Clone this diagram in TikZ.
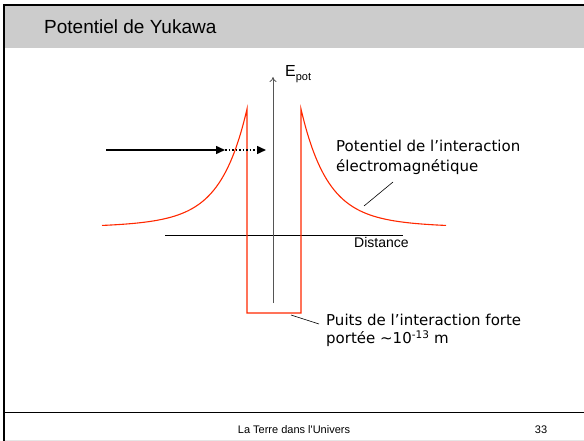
\documentclass[tikz,border=0pt]{standalone}
\usepackage{fontspec}
\setmainfont{Liberation Sans}
\newfontfamily\notefont{DejaVu Sans}
\usetikzlibrary{arrows.meta}
\definecolor{wellred}{RGB}{255,40,0}
\definecolor{headgray}{RGB}{204,204,204}
\definecolor{axisgray}{RGB}{85,85,85}

\begin{document}
\begin{tikzpicture}[x=1pt,y=-1pt,
	note/.style={font=\notefont\fontsize{15}{18}\selectfont, anchor=base west, inner sep=0pt},
	plain/.style={anchor=base west, inner sep=0pt},
	potline/.style={wellred, line width=1.1pt},
	lead/.style={black, line width=0.6pt},
	beam/.style={line width=1.5pt, -{Triangle[length=9pt,width=8pt]}}]
	\useasboundingbox (0,0) rectangle (584,441);
	% slide frame
	\fill[headgray] (5,6) rectangle (584,48);
	\draw[line width=2pt] (4,441) -- (4,5) -- (584,5);
	\draw[line width=1pt] (4,412) -- (584,412);
	\draw[black!10, line width=1pt] (5,440.5) -- (584,440.5);
	\node[plain, font=\fontsize{19}{22}\selectfont] (title) at (44,34) {Potentiel de Yukawa};
	\node[plain, anchor=base, font=\fontsize{11}{13}\selectfont] (foot) at (294,433) {La Terre dans l\textquotesingle Univers};
	\node[plain, anchor=base, font=\fontsize{11}{13}\selectfont] (page) at (541,433) {33};
	% axes
	\coordinate (xa) at (165,235);
	\coordinate (xb) at (403,235);
	\coordinate (ya) at (273,303);
	\coordinate (yb) at (273,77);
	\draw[line width=0.8pt] (xa) -- (xb);
	\draw[axisgray, line width=0.8pt, -{To[length=5pt,width=7pt]}] (ya) -- (yb);
	\node[plain, font=\fontsize{16}{18}\selectfont] (epot) at (285,77) {E\raisebox{-4pt}{\fontsize{11}{13}\selectfont pot}};
	\node[plain, font=\fontsize{14}{16}\selectfont] (dist) at (354,247) {Distance};
	% potential and well
	\draw[potline] plot[domain=145:0, samples=80, smooth] ({247-\x},{228-119*(0.85*exp(-\x/25)+0.15*exp(-\x/70))})
		-- (247,313) -- (301,313) -- (301,109)
		-- plot[domain=0:145, samples=80, smooth] ({301+\x},{228-119*(0.85*exp(-\x/25)+0.15*exp(-\x/70))});
	% incoming particle
	\coordinate (pa) at (106,150);
	\coordinate (pb) at (225,150);
	\coordinate (pc) at (266,150);
	\draw[beam] (pa) -- (pb);
	\draw[beam, dotted] (pb) -- (pc);
	% labels
	\node[note] (em1) at (336,151.7) {Potentiel de l’interaction};
	\node[note] (em2) at ([yshift=-20pt]em1.base west) {électromagnétique};
	\coordinate (emfoot) at (393,182);
	\coordinate (emtip) at (364,206);
	\draw[lead] (emfoot) -- (emtip);
	\node[note] (pw1) at (326,325) {Puits de l’interaction forte};
	\node[note] (pw2) at ([yshift=-18.5pt]pw1.base west) {portée \textasciitilde10\textsuperscript{-13} m};
	\coordinate (pwfoot) at (319,324);
	\coordinate (pwtip) at (291,315);
	\draw[lead] (pwfoot) -- (pwtip);
\end{tikzpicture}
\end{document}
